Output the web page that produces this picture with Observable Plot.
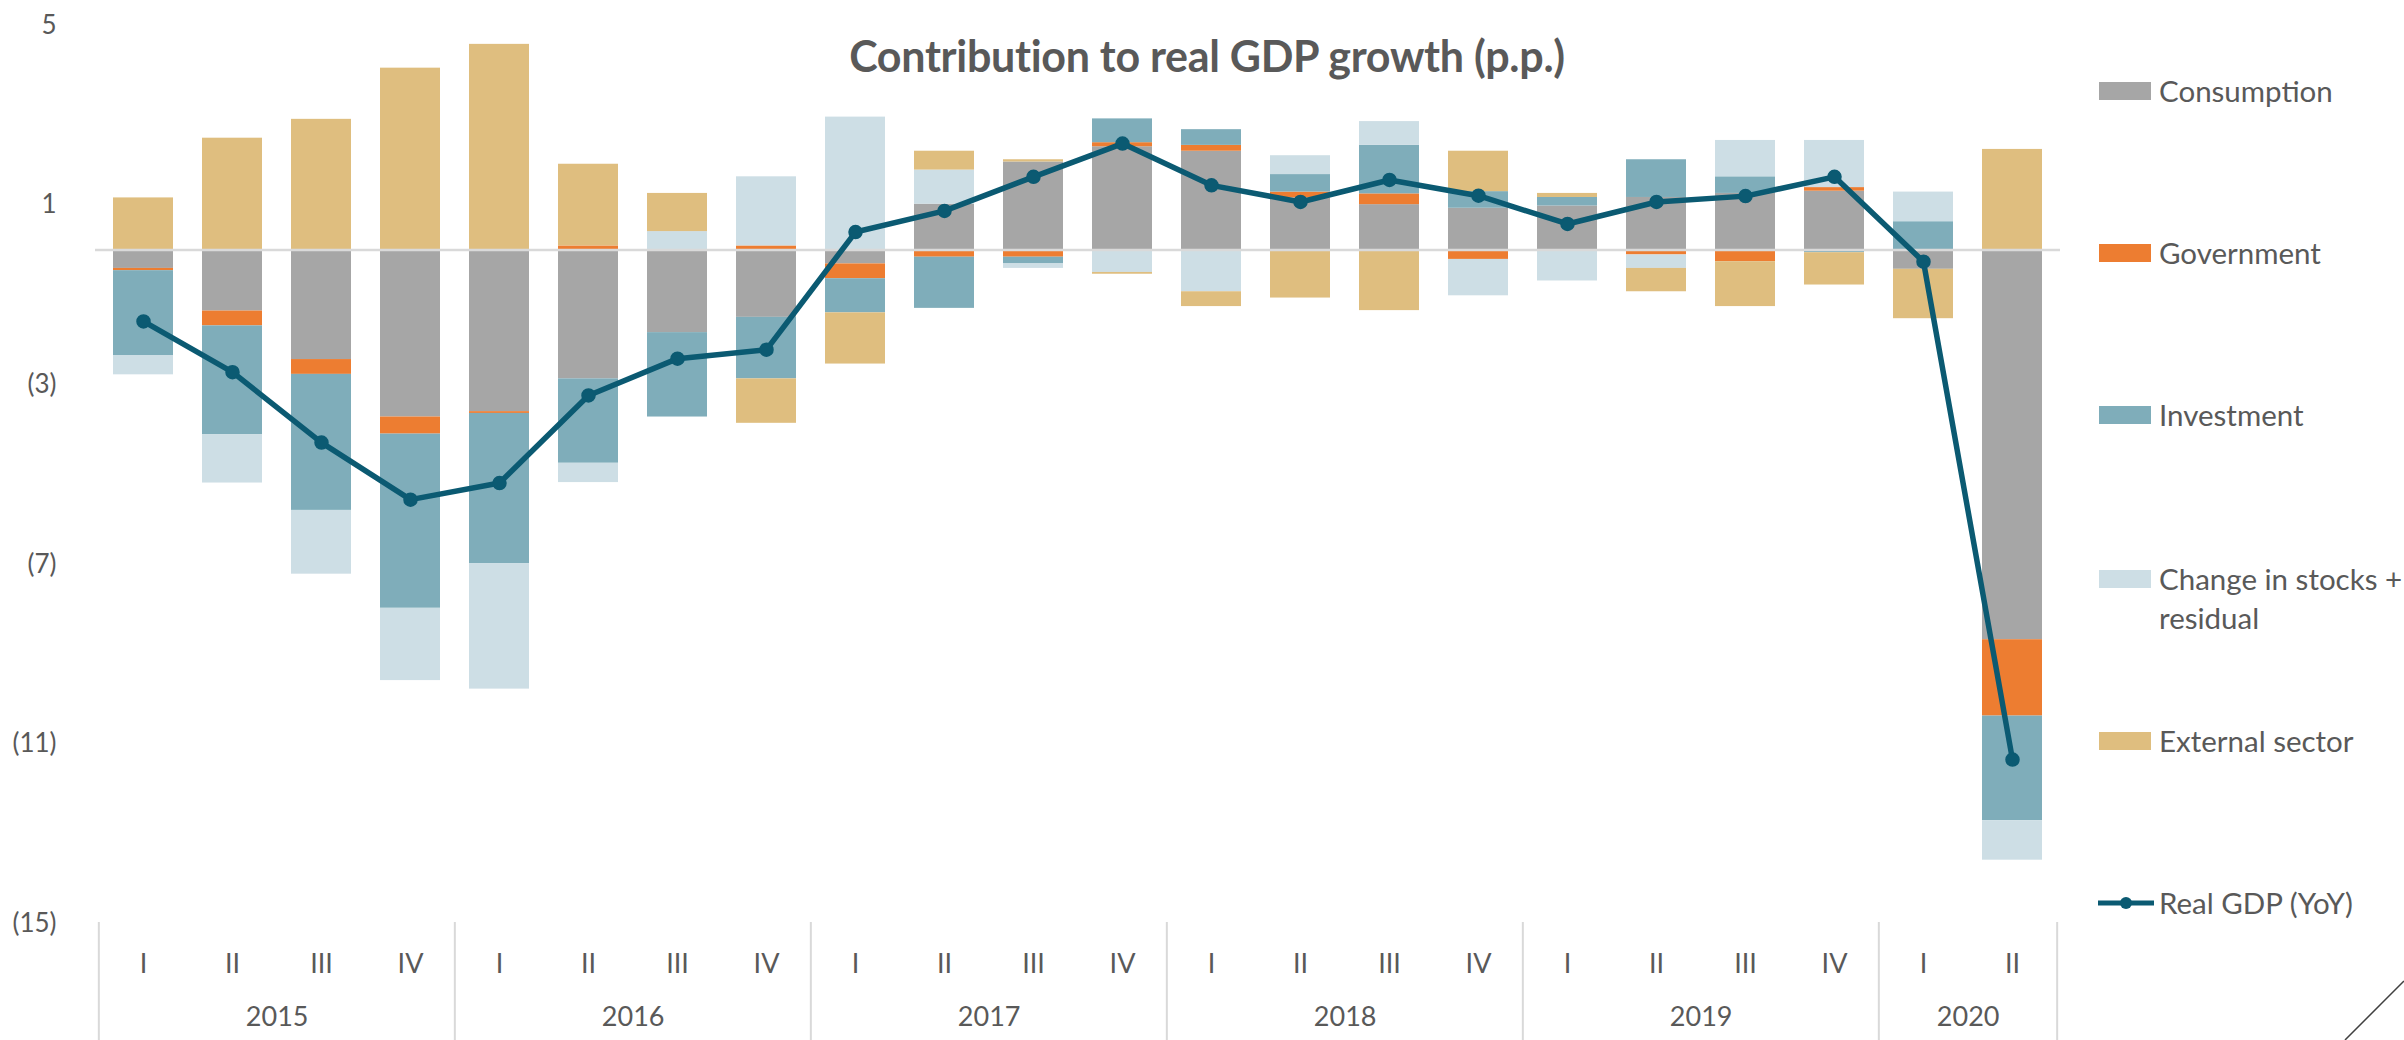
<!DOCTYPE html>
<html>
<head>
<meta charset="utf-8">
<script src="https://cdn.jsdelivr.net/npm/d3@7"></script>
<script src="https://cdn.jsdelivr.net/npm/@observablehq/plot@0.6"></script>
<style>
  html, body { margin: 0; padding: 0; background: #ffffff; }
  #wrap { position: relative; width: 2404px; height: 1040px; overflow: hidden; background: #ffffff; font-family: Lato, "Open Sans", sans-serif; color: #595959; }
  #chart { position: absolute; left: 0; top: 0; }
  #chart svg { max-width: none !important; }
  #chart g[aria-label^="y-axis"] text { font-size: 26px; }
  #chart g[aria-label^="x-axis"] text { font-size: 27px; }
  #title { position: absolute; left: 0; width: 2414px; top: 30px; text-align: center; font-weight: 700; font-size: 43px; color: #595959; letter-spacing: -0.3px; }
  .lg { position: absolute; left: 2097px; height: 40px; }
  .sw { position: absolute; left: 2px; width: 52px; height: 18px; }
  .lt { position: absolute; left: 62px; font-size: 29.5px; line-height: 39px; white-space: nowrap; color: #595959; }
  #deco { position: absolute; left: 2330px; top: 970px; }
</style>
</head>
<body>
<div id="wrap">
  <div id="chart"></div>
  <div id="title">Contribution to real GDP growth (p.p.)</div>
  <div id="legend"></div>
  <svg id="deco" width="74" height="70"><line x1="15" y1="70" x2="74" y2="11" stroke="#404040" stroke-width="1.5"/></svg>
</div>
<script>
// ---- data ----
const years = ["2015","2015","2015","2015","2016","2016","2016","2016","2017","2017","2017","2017","2018","2018","2018","2018","2019","2019","2019","2019","2020","2020"];
const quarters = ["I","II","III","IV","I","II","III","IV","I","II","III","IV","I","II","III","IV","I","II","III","IV","I","II"];
const seriesNames = ["Consumption","Government","Investment","Change in stocks + residual","External sector"];
const seriesColors = ["#a6a6a6","#ed7d31","#7fadba","#cddee5","#dfbe7f"];
const consumption = [-0.41,-1.36,-2.44,-3.72,-3.60,-2.87,-1.84,-1.50,-0.31,1.02,1.96,2.30,2.20,1.16,1.01,0.93,0.98,1.17,1.26,1.31,-0.43,-8.68];
const government  = [-0.05,-0.33,-0.33,-0.38,-0.04,0.09,0.00,0.09,-0.33,-0.16,-0.16,0.09,0.13,0.13,0.24,-0.21,0.00,-0.11,-0.26,0.08,0.00,-1.70];
const investment  = [-1.89,-2.42,-3.03,-3.88,-3.35,-1.88,-1.88,-1.37,-0.76,-1.14,-0.15,0.53,0.35,0.39,1.08,0.37,0.19,0.84,0.37,-0.06,0.63,-2.33];
const stocks      = [-0.43,-1.08,-1.42,-1.61,-2.79,-0.43,0.41,1.54,2.96,0.76,-0.10,-0.50,-0.93,0.42,0.53,-0.81,-0.69,-0.30,0.81,1.05,0.66,-0.88];
const external    = [1.16,2.49,2.91,4.05,4.58,1.82,0.85,-0.99,-1.14,0.42,0.05,-0.04,-0.33,-1.07,-1.35,0.90,0.09,-0.52,-1.00,-0.72,-1.10,2.24];
const realGDP     = [-1.59,-2.72,-4.29,-5.56,-5.19,-3.24,-2.42,-2.22,0.40,0.87,1.63,2.37,1.44,1.07,1.56,1.21,0.58,1.07,1.20,1.63,-0.26,-11.35];
const yTicks = [5, 1, -3, -7, -11, -15];
const lineName = "Real GDP (YoY)";
const lineColor = "#0b5a72";

// ---- derived tables ----
const keys = years.map((y, i) => y + " " + quarters[i]);
const valuesBySeries = [consumption, government, investment, stocks, external];
const rows = keys.flatMap((k, i) => seriesNames.map((s, j) => ({key: k, series: s, value: valuesBySeries[j][i]})));
const gdpRows = keys.map((k, i) => ({key: k, value: realGDP[i]}));
const uniqueYears = Array.from(new Set(years));
const yearFirst = uniqueYears.map(y => keys[years.indexOf(y)]);
const yearMid = uniqueYears.map(y => {
  const idx = years.map((v, i) => v === y ? i : -1).filter(i => i >= 0);
  return {key: keys[idx[idx.length / 2 - 1]], year: y};
});

// ---- layout ----
const W = 2404, H = 1040, ML = 95, MR = 344, MT = 25, MB = 117;
const step = (W - ML - MR) / keys.length;

const chart = Plot.plot({
  width: W, height: H,
  marginLeft: ML, marginRight: MR, marginTop: MT, marginBottom: MB,
  style: {fontFamily: "Lato, 'Open Sans', sans-serif", color: "#595959", background: "transparent", overflow: "visible"},
  x: {domain: keys, paddingInner: 0.33, paddingOuter: 0.165, tickFormat: k => k.split(" ")[1], tickSize: 0, tickPadding: 30, label: null},
  y: {domain: [-15, 5], ticks: yTicks, tickFormat: d => d < 0 ? `(${-d})` : `${d}`, tickSize: 0, tickPadding: 39, label: null},
  color: {domain: seriesNames, range: seriesColors},
  marks: [
    Plot.barY(rows, {x: "key", y: "value", fill: "series", order: null}),
    Plot.ruleY([0], {stroke: "#d9d9d9", strokeWidth: 2.5}),
    Plot.ruleX(yearFirst, {x: d => d, dx: -step / 2, insetTop: H - MT - MB - 1, insetBottom: -MB, stroke: "#d9d9d9", strokeWidth: 2}),
    Plot.ruleX([keys[keys.length - 1]], {x: d => d, dx: step / 2, insetTop: H - MT - MB - 1, insetBottom: -MB, stroke: "#d9d9d9", strokeWidth: 2}),
    Plot.text(yearMid, {x: "key", text: "year", frameAnchor: "bottom", dx: step / 2, dy: 102, fontSize: 27, fill: "#595959"}),
    Plot.line(gdpRows, {x: "key", y: "value", stroke: lineColor, strokeWidth: 5.5, strokeLinejoin: "round"}),
    Plot.dot(gdpRows, {x: "key", y: "value", r: 6.5, fill: lineColor, stroke: lineColor})
  ]
});
document.getElementById("chart").appendChild(chart);

// ---- legend (HTML, right side) ----
const legend = document.getElementById("legend");
const legendY = [91, 253, 415, 579, 741, 903];
seriesNames.forEach((name, j) => {
  const item = document.createElement("div");
  item.className = "lg";
  item.style.top = (legendY[j] - 20) + "px";
  const sw = document.createElement("div");
  sw.className = "sw";
  sw.style.top = "11px";
  sw.style.background = seriesColors[j];
  const t = document.createElement("div");
  t.className = "lt";
  t.style.top = "0px";
  t.innerHTML = name === "Change in stocks + residual" ? "Change in stocks +<br>residual" : name;
  item.appendChild(sw); item.appendChild(t);
  legend.appendChild(item);
});
{
  const item = document.createElement("div");
  item.className = "lg";
  item.style.top = (legendY[5] - 20) + "px";
  item.innerHTML = `<svg style="position:absolute;left:0;top:0" width="60" height="40"><line x1="1" y1="20" x2="57" y2="20" stroke="${lineColor}" stroke-width="5"/><circle cx="29" cy="20" r="6" fill="${lineColor}"/></svg>`;
  const t = document.createElement("div");
  t.className = "lt";
  t.style.top = "0px";
  t.textContent = lineName;
  item.appendChild(t);
  legend.appendChild(item);
}
</script>
</body>
</html>
